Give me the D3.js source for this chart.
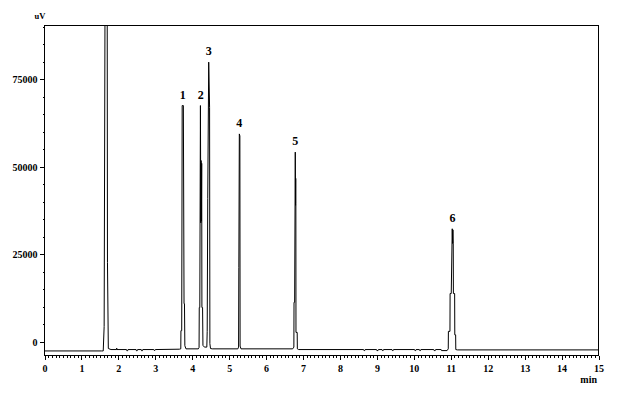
<!DOCTYPE html>
<html>
<head>
<meta charset="utf-8">
<script src="https://cdn.jsdelivr.net/npm/d3@7"></script>
<style>
  html, body { margin: 0; padding: 0; background: #fff; }
  svg { display: block; }
</style>
</head>
<body>
<script>
// ---------- data (minutes, uV) ----------
const baselineStart = [[0, -2600], [1.55, -2600], [1.590, -2600]];
const solventPeak = [[1.615, 4400], [1.655, 160000], [1.692, 160000], [1.705, 22700], [1.728, -1900], [1.80, -2200]];
const baselineA = [[1.95, -2200], [1.955, -1800], [1.96, -2200], [2.22, -2200], [2.23, -2550], [2.25, -2550], [2.26, -2200],
  [2.48, -2200], [2.49, -2550], [2.51, -2550], [2.52, -2200], [2.62, -2200], [2.63, -2550], [2.65, -2550], [2.66, -2200],
  [2.96, -2200], [2.97, -2450], [2.99, -2450], [3.0, -2200], [3.65, -2100]];
const peak1 = [[3.690, -2000], [3.694, 3200], [3.715, 3200], [3.728, 67500], [3.760, 67500], [3.778, 10900], [3.790, 10900], [3.800, -1100], [3.830, -2000]];
const peak2 = [[4.165, -2000], [4.185, -1600], [4.190, 9800], [4.205, 9800], [4.222, 67500], [4.232, 34000], [4.240, 51800], [4.248, 34500], [4.256, 51000], [4.262, 9800], [4.280, 9800], [4.290, -1000]];
const peak3 = [[4.330, -1500], [4.395, -1500], [4.405, 3000], [4.420, 41000], [4.446, 79900], [4.470, 67000], [4.478, -500], [4.495, -1900], [4.54, -2000]];
const peak4 = [[5.235, -2000], [5.255, -1500], [5.262, 21300], [5.275, 59400], [5.290, 58800], [5.296, -1200], [5.32, -2000]];
const peak5 = [[6.72, -2000], [6.752, -1500], [6.756, 11300], [6.773, 11300], [6.790, 54200], [6.797, 39000], [6.802, 46700], [6.806, 39500], [6.809, 2700], [6.842, 2700], [6.846, -2000], [6.88, -2200]];
const baselineB = [[8.64, -2200], [8.65, -2500], [8.67, -2500], [8.68, -2200], [8.99, -2200], [9.0, -2500], [9.03, -2500], [9.04, -2200],
  [9.14, -2200], [9.15, -2500], [9.17, -2500], [9.18, -2200], [9.41, -2200], [9.42, -2500], [9.44, -2500], [9.45, -2200],
  [10.02, -2200], [10.03, -2500], [10.05, -2500], [10.06, -2200], [10.15, -2200], [10.16, -2500], [10.18, -2500], [10.19, -2200],
  [10.54, -2200], [10.55, -2500], [10.58, -2500], [10.59, -2200], [10.74, -2200], [10.75, -2500], [10.90, -2500]];
const peak6 = [[10.932, -2000], [10.936, 3000], [10.978, 3000], [10.982, 13800], [11.013, 13800], [11.040, 32300], [11.050, 28100], [11.058, 32000], [11.067, 28000], [11.071, 13800], [11.105, 13800], [11.109, 2000], [11.132, 2000], [11.136, -2200], [11.18, -2300]];
const baselineEnd = [[15, -2300]];

const peakLabels = ["1", "2", "3", "4", "5", "6"];
const peakLabelTimes = [3.744, 4.232, 4.446, 5.275, 6.790, 11.045];
const peakLabelValues = [67500, 67500, 79900, 59400, 54200, 32300];

const yMajorTicks = [0, 25000, 50000, 75000];
const yMinorTicks = d3.range(0, 90001, 5000);
const xMajorTicks = [0, 1, 2, 3, 4, 5, 6, 7, 8, 9, 10, 11, 12, 13, 14, 15];
const xMajorLabels = ["0", "1", "2", "3", "4", "5", "6", "7", "8", "9", "10", "11", "12", "13", "14", "15"];
const xMinorTicks = d3.range(0, 150).map(i => i / 10).filter(v => Math.abs(v - Math.round(v)) > 1e-6);
const xUnit = "min";
const yUnit = "uV";

const trace = [].concat(baselineStart, solventPeak, baselineA, peak1, peak2, peak3, peak4, peak5, baselineB, peak6, baselineEnd);

// ---------- layout ----------
const W = 640, H = 408;
const pLeft = 44.5, pRight = 598.5, pTop = 25.5, pBottom = 355.5;
const fontFam = "'Liberation Serif', 'Times New Roman', serif";

const svg = d3.select("body").append("svg").attr("width", W).attr("height", H);
svg.append("rect").attr("width", W).attr("height", H).attr("fill", "#fff");

const x = d3.scaleLinear().domain([0, 15]).range([pLeft, pRight]);
const y = d3.scaleLinear().domain([-3900, 90370]).range([pBottom, pTop]);

svg.append("clipPath").attr("id", "plotclip").append("rect")
  .attr("x", pLeft).attr("y", pTop).attr("width", pRight - pLeft).attr("height", pBottom - pTop);

// trace
const line = d3.line().x(d => x(d[0])).y(d => y(d[1]));
svg.append("path").datum(trace)
  .attr("clip-path", "url(#plotclip)")
  .attr("d", line).attr("fill", "none").attr("stroke", "#000").attr("stroke-width", 1);

// frame
svg.append("rect").attr("x", pLeft).attr("y", pTop).attr("width", pRight - pLeft).attr("height", pBottom - pTop)
  .attr("fill", "none").attr("stroke", "#000").attr("stroke-width", 1).attr("shape-rendering", "crispEdges");

// y axis
const yMinor = svg.append("g").attr("transform", `translate(${pLeft},0)`)
  .call(d3.axisLeft(y).tickValues(yMinorTicks).tickSize(2).tickFormat(""));
const yMajor = svg.append("g").attr("transform", `translate(${pLeft},0)`)
  .call(d3.axisLeft(y).tickValues(yMajorTicks).tickSize(5).tickPadding(2).tickFormat(d3.format("d")));

// x axis
const xMinor = svg.append("g").attr("transform", `translate(0,${pBottom})`)
  .call(d3.axisBottom(x).tickValues(xMinorTicks).tickSize(2).tickFormat(""));
const xMajor = svg.append("g").attr("transform", `translate(0,${pBottom})`)
  .call(d3.axisBottom(x).tickValues(xMajorTicks).tickSize(4).tickPadding(5).tickFormat((d, i) => xMajorLabels[i]));

[yMinor, yMajor, xMinor, xMajor].forEach(g => {
  g.select(".domain").remove();
  g.selectAll("line").attr("stroke", "#000").attr("shape-rendering", "crispEdges");
  g.selectAll("text").attr("fill", "#000").attr("font-family", fontFam).attr("font-weight", "bold").attr("font-size", 10);
});

// units
svg.append("text").attr("x", 40).attr("y", 18.7).attr("text-anchor", "middle")
  .attr("font-family", fontFam).attr("font-weight", "bold").attr("font-size", 8.5).text(yUnit);
svg.append("text").attr("x", 597).attr("y", 382.7).attr("text-anchor", "end")
  .attr("font-family", fontFam).attr("font-weight", "bold").attr("font-size", 10).text(xUnit);

// peak labels
svg.append("g").selectAll("text").data(peakLabels).join("text")
  .attr("x", (d, i) => x(peakLabelTimes[i]))
  .attr("y", (d, i) => y(peakLabelValues[i]) - 7)
  .attr("text-anchor", "middle")
  .attr("font-family", fontFam).attr("font-weight", "bold").attr("font-size", 12)
  .text(d => d);
</script>
</body>
</html>
